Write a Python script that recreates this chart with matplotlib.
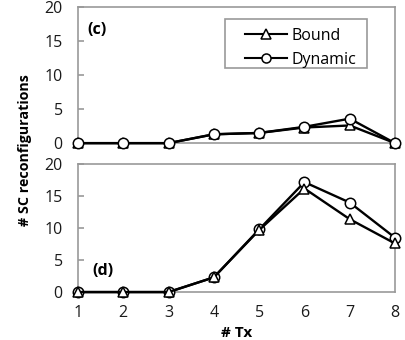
import matplotlib
matplotlib.use("Agg")
import matplotlib.pyplot as plt
from matplotlib.patches import Rectangle

tx = [1, 2, 3, 4, 5, 6, 7, 8]
bound_c = [0, 0, 0, 1.3, 1.5, 2.3, 2.6, 0]
dynamic_c = [0, 0, 0, 1.3, 1.5, 2.4, 3.6, 0]
bound_d = [0, 0, 0, 2.3, 9.7, 16.2, 11.4, 7.6]
dynamic_d = [0, 0, 0, 2.3, 9.8, 17.2, 14.0, 8.5]
yticks = [0, 5, 10, 15, 20]

plt.rcParams['font.family'] = ['Open Sans', 'DejaVu Sans']
plt.rcParams['font.size'] = 11.5

fig = plt.figure(figsize=[4.06, 3.40], dpi=100)
ax1 = fig.add_axes([0.192, 0.579, 0.781, 0.400])
ax2 = fig.add_axes([0.192, 0.141, 0.781, 0.376])

def style(ax):
	ax.set_xlim(1, 8)
	ax.set_ylim(0, 20)
	ax.set_yticks(yticks)
	ax.set_xticks(tx)
	for s in ax.spines.values():
		s.set_color('#999999')
		s.set_linewidth(1.2)
	ax.tick_params(axis='y', direction='in', length=4, width=1.2, color='#999999',
			pad=11, labelcolor='#1a1a1a')
	ax.tick_params(axis='x', length=0, pad=9, labelcolor='#1a1a1a')

line_kw = dict(color='black', lw=1.7, mfc='white', mec='black', ms=7.5, mew=1.1,
	clip_on=False)

ax1.plot(tx, bound_c, marker='^', label='Bound', zorder=3, **line_kw)
ax1.plot(tx, dynamic_c, marker='o', label='Dynamic', zorder=4, **line_kw)
style(ax1)
ax1.set_xticklabels([])
ax1.text(0.03, 0.80, '(c)', transform=ax1.transAxes, fontweight='bold')

# legend box drawn separately (Excel-like wide padding on the left)
ax1.add_patch(Rectangle((0.464, 0.551), 0.448, 0.361, transform=ax1.transAxes,
		fill=True, facecolor='white', edgecolor='#999999', lw=1.2, zorder=5))
leg = ax1.legend(loc='upper left', bbox_to_anchor=(0.527, 0.85), frameon=False,
		handlelength=2.6, borderpad=0, borderaxespad=0, labelspacing=0.5,
		handletextpad=0.3)
leg.set_zorder(6)
for h in leg.legend_handles:
	h.set_markersize(6.5)
	h.set_linewidth(1.5)

ax2.plot(tx, bound_d, marker='^', label='Bound', zorder=4, **line_kw)
ax2.plot(tx, dynamic_d, marker='o', label='Dynamic', zorder=3, **line_kw)
style(ax2)
ax2.text(0.045, 0.13, '(d)', transform=ax2.transAxes, fontweight='bold')
ax2.set_xlabel('# Tx', fontweight='bold', labelpad=4, fontsize=11)

fig.text(0.062, 0.56, '# SC reconfigurations', rotation=90, va='center', ha='center',
	fontweight='bold', fontsize=10.3)

plt.savefig('out.png', dpi=100)
